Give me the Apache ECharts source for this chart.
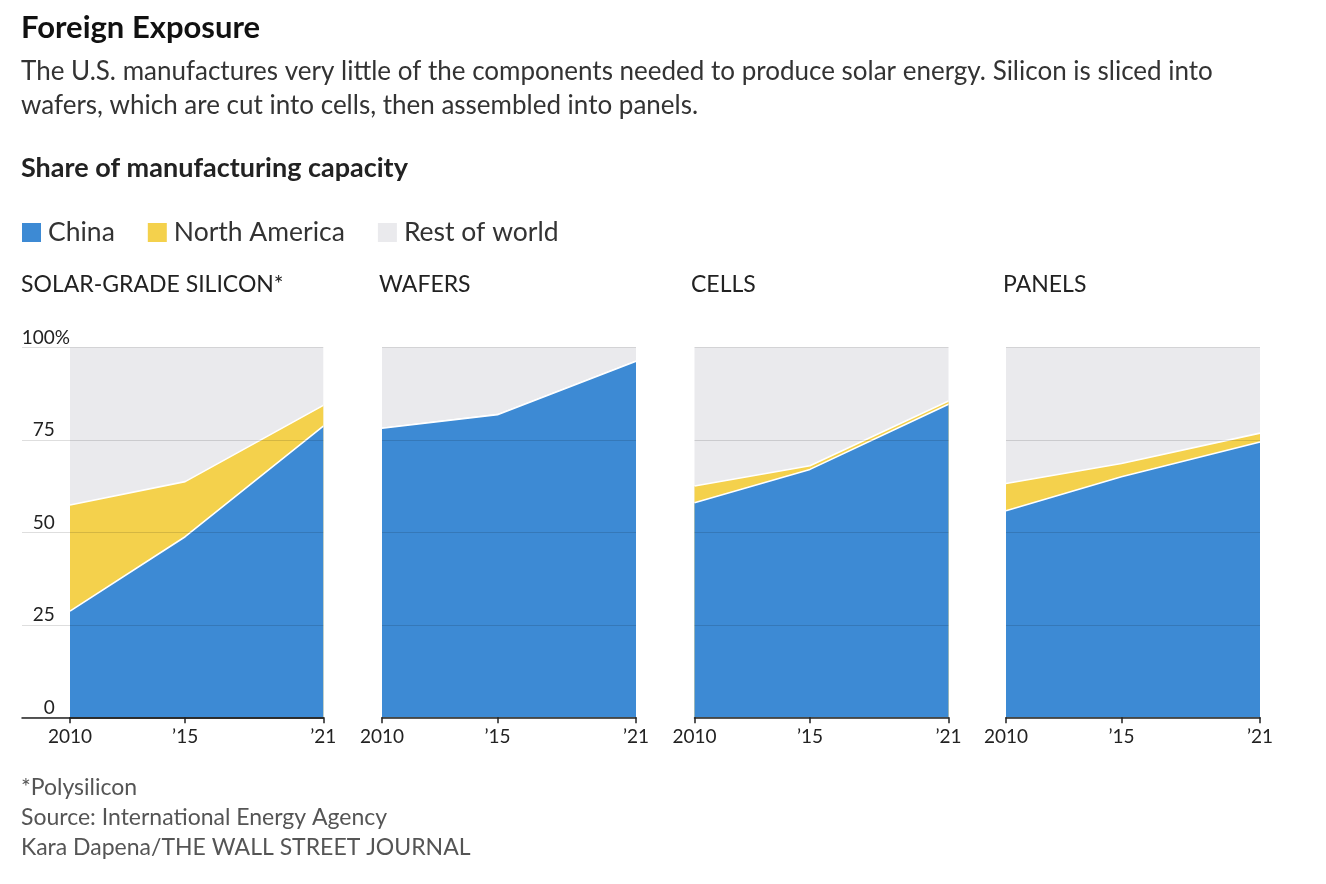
<!DOCTYPE html>
<html>
<head>
<meta charset="utf-8">
<script src="https://cdn.jsdelivr.net/npm/echarts@6/dist/echarts.min.js"></script>
<style>
  html, body { margin: 0; padding: 0; background: #ffffff; }
  #chart { width: 1326px; height: 884px; }
</style>
</head>
<body>
<div id="chart"></div>
<script>
// ---- Data ----
const years = [2010, 2015, 2021];
const yTicks = [0, 25, 50, 75, 100];
const panelTitles = ['SOLAR-GRADE SILICON*', 'WAFERS', 'CELLS', 'PANELS'];
const seriesNames = ['China', 'North America', 'Rest of world'];

const siliconChina = [28.7, 48.8, 78.7];
const siliconNA    = [28.7, 14.9, 5.6];
const siliconRest  = [42.6, 36.3, 15.7];

const wafersChina  = [78.1, 81.8, 96.2];
const wafersNA     = [0, 0, 0];
const wafersRest   = [21.9, 18.2, 3.8];

const cellsChina   = [58.0, 67.0, 84.6];
const cellsNA      = [4.5, 1.0, 0.9];
const cellsRest    = [37.5, 32.0, 14.5];

const panelsChina  = [55.8, 65.0, 74.4];
const panelsNA     = [7.4, 3.6, 2.4];
const panelsRest   = [36.8, 31.4, 23.2];

const panelData = [
  [siliconChina, siliconNA, siliconRest],
  [wafersChina, wafersNA, wafersRest],
  [cellsChina, cellsNA, cellsRest],
  [panelsChina, panelsNA, panelsRest]
];

// ---- Styles ----
const FONT = 'Lato';
const COLORS = ['#3d8ad4', '#f4d14c', '#eaeaed'];
const GRID_COLOR = 'rgba(0,0,0,0.13)';
const AXIS_COLOR = '#222';

const gridLefts = [70, 382, 694.5, 1006];
const gridWidths = [253.3, 254, 254, 254];
const gridTop = 347.3;
const gridHeight = 370;

const grids = [];
const xAxes = [];
const yAxes = [];
const series = [];

// background grid for panel 1 (gridlines extend left under the y labels)
grids.push({ left: 22, top: gridTop, width: 70 + gridWidths[0] - 22, height: gridHeight });
xAxes.push({
  gridIndex: 0, type: 'value', min: 0, max: 1, z: 7,
  axisLine: { show: true, lineStyle: { color: AXIS_COLOR, width: 1.5 } },
  axisTick: { show: false }, axisLabel: { show: false }, splitLine: { show: false }
});
yAxes.push({
  gridIndex: 0, type: 'value', min: 0, max: 100, interval: 25, z: 6,
  axisLine: { show: false }, axisTick: { show: false }, axisLabel: { show: false },
  splitLine: { show: true, lineStyle: { color: GRID_COLOR, width: 1.2 } }
});

const yearLabel = v => (v === 2010 ? '2010' : '\u2019' + String(v).slice(2));

for (let p = 0; p < 4; p++) {
  const gi = p + 1;
  grids.push({ left: gridLefts[p], top: gridTop, width: gridWidths[p], height: gridHeight });
  xAxes.push({
    gridIndex: gi, type: 'value', min: years[0], max: years[years.length - 1], z: 7,
    axisLine: { show: true, lineStyle: { color: AXIS_COLOR, width: 1.5 } },
    axisTick: { show: true, customValues: years, length: 6, lineStyle: { color: AXIS_COLOR, width: 1.5 } },
    axisLabel: {
      show: true, customValues: years, formatter: yearLabel, margin: 10,
      fontFamily: FONT, fontSize: 19, color: '#222'
    },
    splitLine: { show: false }
  });
  yAxes.push({
    gridIndex: gi, type: 'value', min: 0, max: 100, interval: 25, z: 6,
    axisLine: { show: false }, axisTick: { show: false },
    axisLabel: p === 0 ? {
      show: true, margin: 0, verticalAlign: 'bottom', lineHeight: 19,
      fontFamily: FONT, fontSize: 19, color: '#222',
      formatter: v => (v === 100 ? '100%' : v + '{h|%}'),
      rich: { h: { color: 'rgba(0,0,0,0)', fontFamily: FONT, fontSize: 19, lineHeight: 19 } }
    } : { show: false },
    splitLine: { show: p !== 0, lineStyle: { color: GRID_COLOR, width: 1.2 } }
  });
  // stacked areas: each band's top edge = running sum of the shares below it
  const zs = [4, 3, 2];
  for (let s = 0; s < 3; s++) {
    const tops = years.map((y, i) => {
      let sum = 0;
      for (let k = 0; k <= s; k++) sum += panelData[p][k][i];
      return [y, Math.round(sum * 100) / 100];
    });
    series.push({
      name: seriesNames[s], type: 'line',
      xAxisIndex: gi, yAxisIndex: gi, z: zs[s],
      showSymbol: false, symbol: 'none', smooth: false,
      data: tops,
      itemStyle: { color: COLORS[s] },
      lineStyle: { color: '#ffffff', width: s < 2 ? 1.6 : 0 },
      areaStyle: { color: COLORS[s], opacity: 1, origin: 'start' },
      emphasis: { disabled: true },
      silent: true
    });
  }
}

const titles = [
  { text: 'Foreign Exposure', left: 21, top: 12, padding: 0,
    textStyle: { fontFamily: FONT, fontSize: 31, fontWeight: 'bold', color: '#111' } },
  { text: 'The U.S. manufactures very little of the components needed to produce solar energy. Silicon is sliced into\nwafers, which are cut into cells, then assembled into panels.',
    left: 21, top: 55, padding: 0,
    textStyle: { fontFamily: FONT, fontSize: 26, lineHeight: 34, fontWeight: 'normal', color: '#333' } },
  { text: 'Share of manufacturing capacity', left: 21, top: 155, padding: 0,
    textStyle: { fontFamily: FONT, fontSize: 27, fontWeight: 'bold', color: '#222' } }
];
const panelTitleLefts = [21, 379, 691, 1003];
panelTitles.forEach((t, i) => titles.push({
  text: t, left: panelTitleLefts[i], top: 273, padding: 0,
  textStyle: { fontFamily: FONT, fontSize: 23, fontWeight: 'normal', color: '#222' }
}));
titles.push({
  text: '*Polysilicon\nSource: International Energy Agency\nKara Dapena/THE WALL STREET JOURNAL',
  left: 21, top: 773, padding: 0,
  textStyle: { fontFamily: FONT, fontSize: 23, lineHeight: 30, fontWeight: 'normal', color: '#555' }
});

const option = {
  backgroundColor: '#ffffff',
  animation: false,
  title: titles,
  legend: {
    data: seriesNames.map((n, i) => ({ name: n, icon: 'rect', itemStyle: { color: COLORS[i] } })),
    left: 22, top: 219, padding: 0, itemWidth: 19, itemHeight: 19, itemGap: 33,
    selectedMode: false,
    textStyle: { fontFamily: FONT, fontSize: 26.5, color: '#333', padding: [0, 0, 0, 2] }
  },
  grid: grids,
  xAxis: xAxes,
  yAxis: yAxes,
  series: series
};

const chart = echarts.init(document.getElementById('chart'), null, { renderer: 'canvas' });
chart.setOption(option);
</script>
</body>
</html>
